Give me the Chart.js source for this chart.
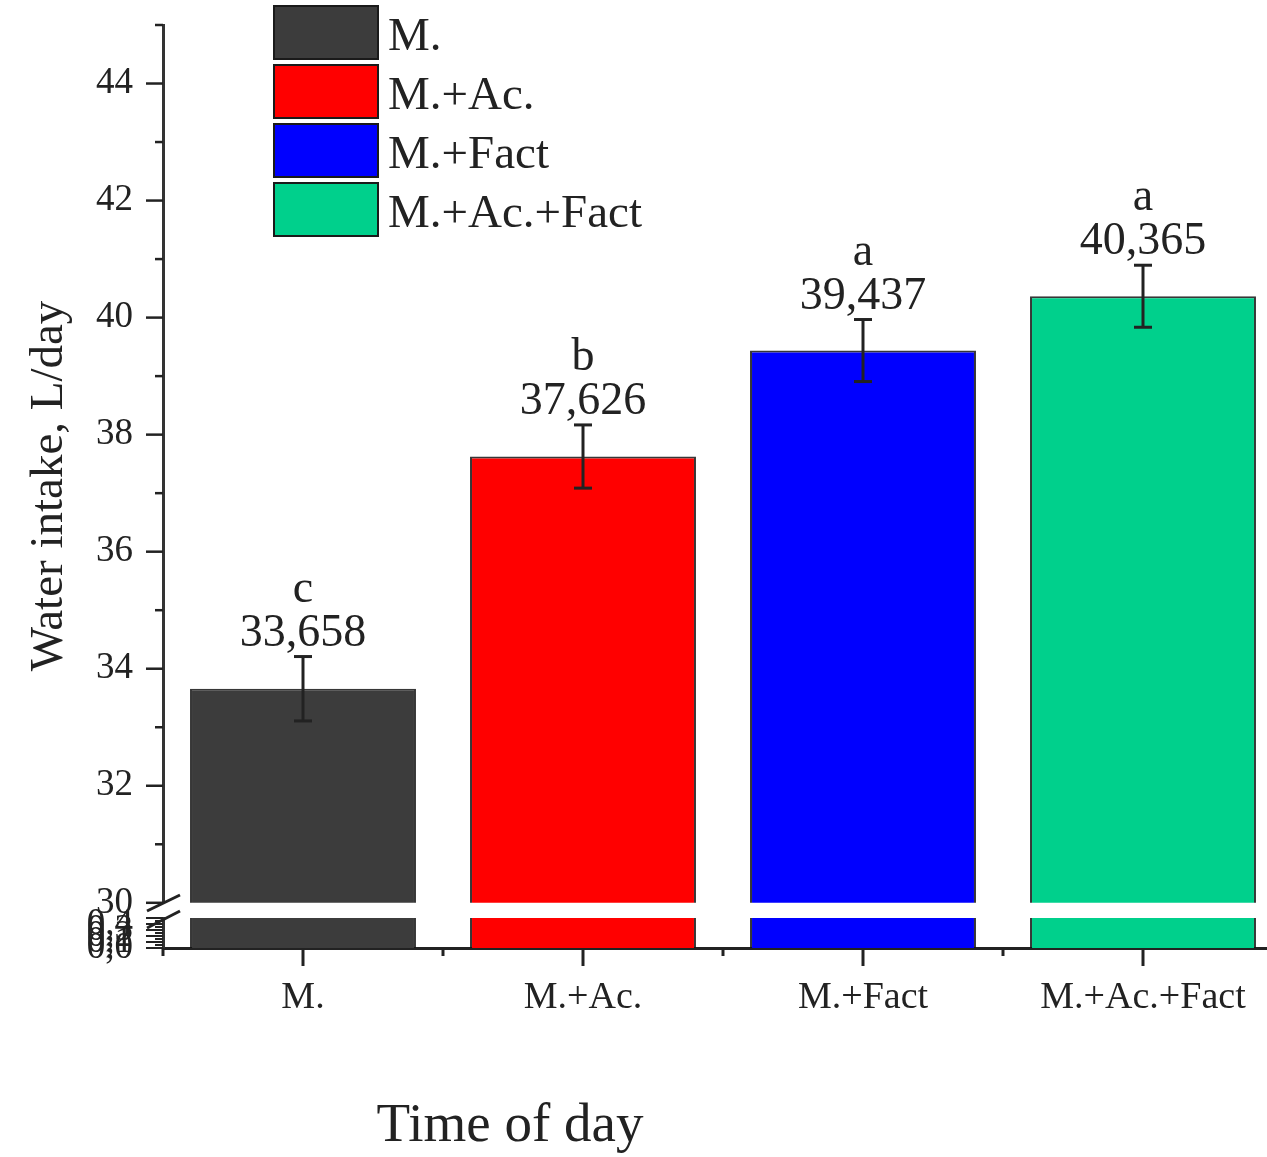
<!DOCTYPE html>
<html>
<head>
<meta charset="utf-8">
<script src="https://cdn.jsdelivr.net/npm/chart.js@4.4.1/dist/chart.umd.min.js"></script>
<style>
  body { margin: 0; background: #fff; overflow: hidden; }
  #wrap { position: relative; width: 1290px; height: 1157px; }
  canvas { position: absolute; left: 0; }
  #upper { top: 0; }
  #lower { top: 905px; }
</style>
</head>
<body>
<div id="wrap">
  <canvas id="upper" width="1290" height="925"></canvas>
  <canvas id="lower" width="1290" height="252"></canvas>
</div>
<script>
// data
const categories = ['M.', 'M.+Ac.', 'M.+Fact', 'M.+Ac.+Fact'];
const waterIntake = [33.658, 37.626, 39.437, 40.365];
const errorSize = [0.55, 0.54, 0.53, 0.53];
const groupLetters = ['c', 'b', 'a', 'a'];
const barColors = ['#3c3c3c', '#ff0000', '#0000ff', '#00d08c'];
const upperTicks = [30, 32, 34, 36, 38, 40, 42, 44];
const lowerTicks = [0, 0.1, 0.2, 0.3, 0.4];
const lowerTickLabels = ['0,0', '0,1', '0,2', '0,3', '0,4'];

const SERIF = "'Liberation Serif', 'Times New Roman', serif";
const INK = '#222';
const AXIS_X = 163;

function line(ctx, x1, y1, x2, y2, w) {
  ctx.beginPath();
  ctx.lineWidth = w;
  ctx.strokeStyle = INK;
  ctx.moveTo(x1, y1);
  ctx.lineTo(x2, y2);
  ctx.stroke();
}

// upper part: ticks, error bars, labels, legend, title
const upperDecor = {
  id: 'upperDecor',
  afterDraw(chart) {
    const ctx = chart.ctx;
    const y = chart.scales.y;
    ctx.save();
    for (let v = 30; v <= 45; v++) {
      const len = upperTicks.includes(v) ? 17 : 8;
      const py = y.getPixelForValue(v);
      line(ctx, AXIS_X - len, py, AXIS_X, py, 2.5);
    }
    const bars = chart.getDatasetMeta(0).data;
    bars.forEach((bar, i) => {
      const top = y.getPixelForValue(waterIntake[i] + errorSize[i]);
      const bot = y.getPixelForValue(waterIntake[i] - errorSize[i]);
      line(ctx, bar.x, top, bar.x, bot, 3);
      line(ctx, bar.x - 9, top, bar.x + 9, top, 3);
      line(ctx, bar.x - 9, bot, bar.x + 9, bot, 3);
      ctx.fillStyle = INK;
      ctx.textAlign = 'center';
      ctx.textBaseline = 'alphabetic';
      ctx.font = '46px ' + SERIF;
      ctx.fillText(waterIntake[i].toFixed(3).replace('.', ','), bar.x, top - 11);
      ctx.fillText(groupLetters[i], bar.x, top - 55);
    });
    // legend
    categories.forEach((c, i) => {
      const by = 6 + i * 59;
      ctx.fillStyle = barColors[i];
      ctx.fillRect(274, by, 104, 53);
      ctx.lineWidth = 2;
      ctx.strokeStyle = '#1a1a1a';
      ctx.strokeRect(274, by, 104, 53);
      ctx.fillStyle = INK;
      ctx.textAlign = 'left';
      ctx.textBaseline = 'alphabetic';
      ctx.font = '47px ' + SERIF;
      ctx.fillText(c, 388, by + 44);
    });
    // y title
    ctx.translate(50, 486);
    ctx.rotate(-Math.PI / 2);
    ctx.textAlign = 'center';
    ctx.textBaseline = 'middle';
    ctx.font = '47px ' + SERIF;
    ctx.fillText('Water intake, L/day', 0, 0);
    ctx.restore();
    // break mark (upper)
    line(ctx, 147, 911, 180, 895, 3);
  }
};

// lower part: small axis segment, category ticks, x title
const lowerDecor = {
  id: 'lowerDecor',
  afterDraw(chart) {
    const ctx = chart.ctx;
    const y = chart.scales.y;
    const x = chart.scales.x;
    ctx.save();
    for (let k = 0; k <= 10; k++) {
      const v = k * 0.05;
      const len = k % 2 === 0 ? 17 : 8;
      const py = y.getPixelForValue(v);
      line(ctx, AXIS_X - len, py, AXIS_X, py, 2);
    }
    ctx.fillStyle = INK;
    ctx.textAlign = 'right';
    ctx.textBaseline = 'middle';
    ctx.font = '37px ' + SERIF;
    lowerTicks.forEach((v, i) => {
      ctx.fillText(lowerTickLabels[i], 133, y.getPixelForValue(v));
    });
    const base = chart.chartArea.bottom;
    categories.forEach((c, i) => {
      const cx = x.getPixelForValue(i);
      line(ctx, cx, base, cx, base + 18, 3);
      const half = (x.getPixelForValue(1) - x.getPixelForValue(0)) / 2;
      line(ctx, cx - half, base, cx - half, base + 8, 3);
      if (i === categories.length - 1) line(ctx, cx + half, base, cx + half, base + 8, 3);
    });
    // break mark (lower)
    line(ctx, 147, 23, 180, 6, 3);
    ctx.fillStyle = INK;
    ctx.textAlign = 'center';
    ctx.textBaseline = 'alphabetic';
    ctx.font = '55px ' + SERIF;
    ctx.fillText('Time of day', 510, 236);
    ctx.restore();
  }
};

const barDataset = {
  data: waterIntake,
  backgroundColor: barColors,
  borderColor: 'rgba(20,20,20,0.85)',
  borderWidth: 2,
  borderSkipped: 'bottom',
  barPercentage: 0.807,
  categoryPercentage: 1.0,
};

const upperChart = new Chart(document.getElementById('upper').getContext('2d'), {
  type: 'bar',
  data: { labels: categories, datasets: [barDataset] },
  options: {
    responsive: false,
    animation: false,
    devicePixelRatio: 1,
    layout: { padding: { top: 25, bottom: 0, left: 0, right: 7 } },
    plugins: { legend: { display: false }, tooltip: { enabled: false } },
    scales: {
      x: { display: false },
      y: {
        min: 30,
        max: 45,
        afterBuildTicks: (s) => { s.ticks = upperTicks.map(v => ({ value: v })); },
        afterFit: (s) => { s.width = AXIS_X; },
        grid: { display: false, drawTicks: true, tickLength: 30 },
        border: { display: true, color: '#333', width: 3 },
        ticks: {
          autoSkip: false,
          padding: 0,
          color: INK,
          font: { family: SERIF, size: 37 },
          callback: (v) => String(v),
        },
      },
    },
  },
  plugins: [upperDecor],
});

const lowerChart = new Chart(document.getElementById('lower').getContext('2d'), {
  type: 'bar',
  data: { labels: categories, datasets: [Object.assign({}, barDataset)] },
  options: {
    responsive: false,
    animation: false,
    devicePixelRatio: 1,
    layout: { padding: { top: 13, bottom: 0, left: 0, right: 7 } },
    plugins: { legend: { display: false }, tooltip: { enabled: false } },
    scales: {
      x: {
        afterFit: (s) => { s.height = 209; },
        grid: { display: false, drawTicks: true, tickLength: 22 },
        border: { display: true, color: '#222', width: 3 },
        ticks: {
          padding: 5,
          color: INK,
          font: { family: SERIF, size: 38 },
        },
      },
      y: {
        min: 0,
        max: 0.5,
        afterFit: (s) => { s.width = AXIS_X; },
        grid: { display: false },
        border: { display: true, color: '#333', width: 3 },
        ticks: { display: false },
      },
    },
  },
  plugins: [lowerDecor],
});
</script>
</body>
</html>
